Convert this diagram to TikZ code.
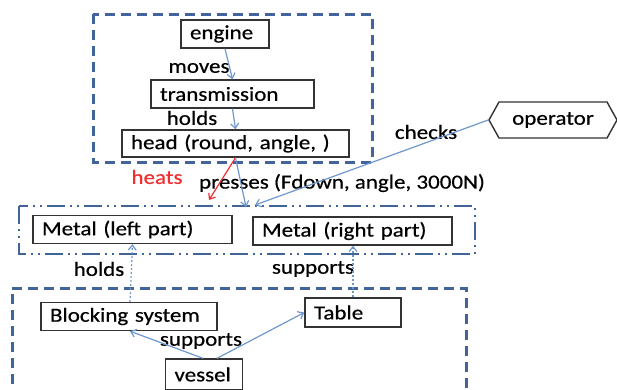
\documentclass[tikz,border=0pt]{standalone}
\usepackage{fontspec}
\setmainfont{Carlito}[FakeStretch=1.15,FakeBold=0.5]
\usetikzlibrary{shapes.symbols,arrows.meta,calc}
\definecolor{frameblue}{HTML}{41659A}
\definecolor{arrowblue}{HTML}{6E98CC}
\definecolor{heatred}{HTML}{F03030}
\tikzset{
  txt/.style={font=\fontsize{20bp}{24bp}\selectfont},
  box/.style={txt, draw=black!80, line width=1.4bp, inner xsep=9bp, inner ysep=0pt, align=left, minimum height=28bp},
  lbl/.style={txt, inner sep=0pt},
  conn/.style={draw=arrowblue, line width=1.2bp, -{Straight Barb[length=5bp,width=8bp]}},
  dotconn/.style={conn, dash pattern=on 2bp off 2bp},
  frame/.style={draw=frameblue, line width=3bp, dash pattern=on 10bp off 6bp},
  frame2/.style={draw=frameblue, line width=2bp, dash pattern=on 18bp off 5bp on 2bp off 5bp on 2bp off 5bp},
}
\begin{document}
\begin{tikzpicture}[x=1bp,y=-1bp]
\useasboundingbox (0,0) rectangle (617,389);
% containers
\draw[frame] (93,14) rectangle (372,162);
\draw[frame2] (19,206) rectangle (475,254);
\draw[frame] (12,400) -- (12,288) -- (466,288) -- (466,400);
% nodes
\node[box, text width=70bp] (engine) at (225,34) {\mbox{engine}};
\node[box, text width=145bp] (trans) at (232.5,94) {\mbox{transmission}};
\node[box, text width=209bp, minimum height=27bp] (head) at (235.5,143.5) {\mbox{head (round, angle, )}};
\node[txt, draw=black!80, line width=1.4bp, signal, signal to=west and east, signal pointer angle=122, minimum width=128bp, minimum height=36bp, inner sep=0pt] (op) at (553,120) {operator};
\node[box, text width=181bp] (metalL) at (132.5,229.5) {\mbox{Metal (left part)}};
\node[box, text width=181bp] (metalR) at (352.5,231) {\mbox{Metal (right part)}};
\node[box, text width=158bp] (block) at (129,316.5) {\mbox{Blocking system}};
\node[box, text width=78bp, minimum height=29bp] (table) at (353,312.5) {\mbox{Table}};
\node[box, text width=59bp, minimum height=31bp] (vessel) at (204,374.5) {\mbox{vessel}};
% target coordinates
\coordinate (heatT) at (209,200);
\coordinate (pressT) at (246,207);
\coordinate (checkT) at (255,205);
% labels
\node[lbl] (lmoves) at (199,68) {moves};
\node[lbl] (lholds1) at (192,118) {holds};
\node[lbl, text=heatred] (lheats) at (157,177) {heats};
\node[lbl] (lpress) at (342,183) {presses (Fdown, angle, 3000N)};
\node[lbl] (lchecks) at (426,132) {checks};
\node[lbl] (lholds2) at (99,269) {holds};
\node[lbl] (lsup1) at (313,269) {supports};
\node[lbl] (lsup2) at (201,341) {supports};
% connectors
\draw[conn] (engine.south) -- (trans.north);
\draw[conn] (trans.south) -- (head.north);
\draw[conn, draw=heatred] (head.south) -- (heatT);
\draw[conn] (head.south) -- (pressT);
\draw[conn] (op.west) -- (checkT);
\draw[conn] ($(vessel.north)+(-1,0)$) -- ($(block.south)+(1,0)$);
\draw[conn] ($(vessel.north)+(13,0)$) -- (table.west);
\draw[dotconn] ($(block.north)+(1,0)$) -- (metalL.south);
\draw[dotconn] (table.north) -- (table.north |- metalR.south);
\end{tikzpicture}
\end{document}
